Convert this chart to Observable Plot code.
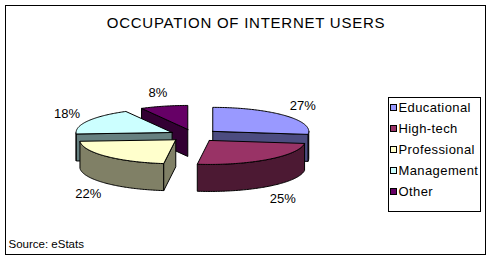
<!DOCTYPE html>
<html><head><meta charset="utf-8">
<script src="https://cdn.jsdelivr.net/npm/d3@7"></script>
<script src="https://cdn.jsdelivr.net/npm/@observablehq/plot@0.6"></script>
<style>
html,body{margin:0;padding:0;background:#fff;}
#chart svg{display:block;}
</style>
</head><body><div id="chart"></div>
<script>
// ---- data ----
const categories = ["Educational", "High-tech", "Professional", "Management", "Other"];
const values = [27, 25, 22, 18, 8];
const topColors = ["#9999FF", "#993366", "#FFFFCC", "#CCFFFF", "#660066"];
const sideColors = ["#4C4C80", "#4C1933", "#808066", "#668080", "#330033"];
const titleText = "OCCUPATION OF INTERNET USERS";
const sourceText = "Source: eStats";

// ---- layout constants ----
const W = 493, H = 261;
const cx0 = 193.5, cy0 = 135, rx = 96, ry = 24, depth = 27, explode = 25;
const labelRx = 120, labelRy = 38, labelDepth = 28;
const font = "'Liberation Sans', Arial, sans-serif";

// ---- slice geometry ----
const total = d3.sum(values);
let acc = 0;
const slices = values.map((v, i) => {
  const a0 = acc / total * 2 * Math.PI; acc += v;
  const a1 = acc / total * 2 * Math.PI;
  const m = (a0 + a1) / 2;
  return {i, v, a0, a1, m,
    cx: cx0 + explode * Math.sin(m),
    cy: cy0 - explode * (ry / rx) * Math.cos(m)};
});
const P = (s, a, dz) => ({x: s.cx + rx * Math.sin(a), y: s.cy - ry * Math.cos(a) + dz});
function arc(s, a, b, dz) {
  const n = Math.max(2, Math.ceil(Math.abs(b - a) / (Math.PI / 180)));
  return d3.range(n + 1).map(k => P(s, a + (b - a) * k / n, dz));
}
const polys = [];
let pid = 0;
function addPoly(pts, fill) {
  const id = pid++;
  pts.concat([pts[0]]).forEach(p => polys.push({id, x: p.x, y: p.y, fill}));
}
const order = slices.slice().sort((a, b) => a.cy - b.cy);
for (const s of order) {
  const side = sideColors[s.i], top = topColors[s.i];
  const c0 = {x: s.cx, y: s.cy}, c1 = {x: s.cx, y: s.cy + depth};
  const lo = Math.max(s.a0, Math.PI / 2), hi = Math.min(s.a1, 3 * Math.PI / 2);
  if (hi > lo) addPoly([...arc(s, lo, hi, 0), ...arc(s, hi, lo, depth)], side);
  if (Math.sin(s.a0) < -1e-6) addPoly([c0, P(s, s.a0, 0), P(s, s.a0, depth), c1], side);
  if (Math.sin(s.a1) > 1e-6) addPoly([c0, P(s, s.a1, 0), P(s, s.a1, depth), c1], side);
  addPoly([c0, ...arc(s, s.a0, s.a1, 0)], top);
}
const labels = slices.map(s => ({
  x: s.cx + labelRx * Math.sin(s.m),
  y: s.cy - labelRy * Math.cos(s.m) + (Math.cos(s.m) < 0 ? labelDepth : 0),
  text: s.v + "%"
}));

// ---- legend ----
const lgX0 = 388, lgX1 = 480, lgY0 = 97, lgY1 = 211, lgItem0 = 107, lgStep = 21;
const legendItems = categories.map((c, i) => ({
  name: c, fill: topColors[i],
  y: lgItem0 + i * lgStep
}));

const chart = Plot.plot({
  width: W, height: H,
  marginLeft: 5, marginTop: 5, marginRight: 8, marginBottom: 7,
  x: {domain: [0, W], range: [0, W], axis: null},
  y: {domain: [0, H], range: [0, H], axis: null},
  color: {type: "identity"},
  style: {fontFamily: font, background: "#fff", overflow: "visible"},
  marks: [
    Plot.frame({stroke: "#000", strokeWidth: 1, shapeRendering: "crispEdges"}),
    Plot.text([titleText], {x: () => 245.5, y: () => 23, text: d => d, fontSize: 15, fill: "#000", textAnchor: "middle"}),
    Plot.line(polys, {x: "x", y: "y", z: "id", fill: "fill", stroke: "#000", strokeWidth: 1, strokeLinejoin: "miter"}),
    Plot.text(labels, {x: "x", y: "y", text: "text", fontSize: 13, fill: "#000", textAnchor: "middle"}),
    Plot.rect([0], {x1: () => lgX0, x2: () => lgX1, y1: () => lgY0, y2: () => lgY1, fill: "#fff", stroke: "#000", shapeRendering: "crispEdges"}),
    Plot.rect(legendItems, {x1: () => 390, x2: () => 396, y1: d => d.y - 3, y2: d => d.y + 3, fill: "fill", stroke: "#000", shapeRendering: "crispEdges"}),
    Plot.text(legendItems, {x: () => 398, y: "y", text: "name", fontSize: 13, fill: "#000", textAnchor: "start"}),
    Plot.text([sourceText], {x: () => 8, y: () => 244, text: d => d, fontSize: 11.5, fill: "#000", textAnchor: "start"})
  ]
});
d3.select(chart).selectAll("text")
  .filter(function() { return this.textContent === titleText; })
  .style("letter-spacing", "0.75px");
d3.select(chart).selectAll("text")
  .filter(function() { return categories.includes(this.textContent); })
  .style("letter-spacing", "0.4px");
document.getElementById("chart").appendChild(chart);
</script>
</body></html>
